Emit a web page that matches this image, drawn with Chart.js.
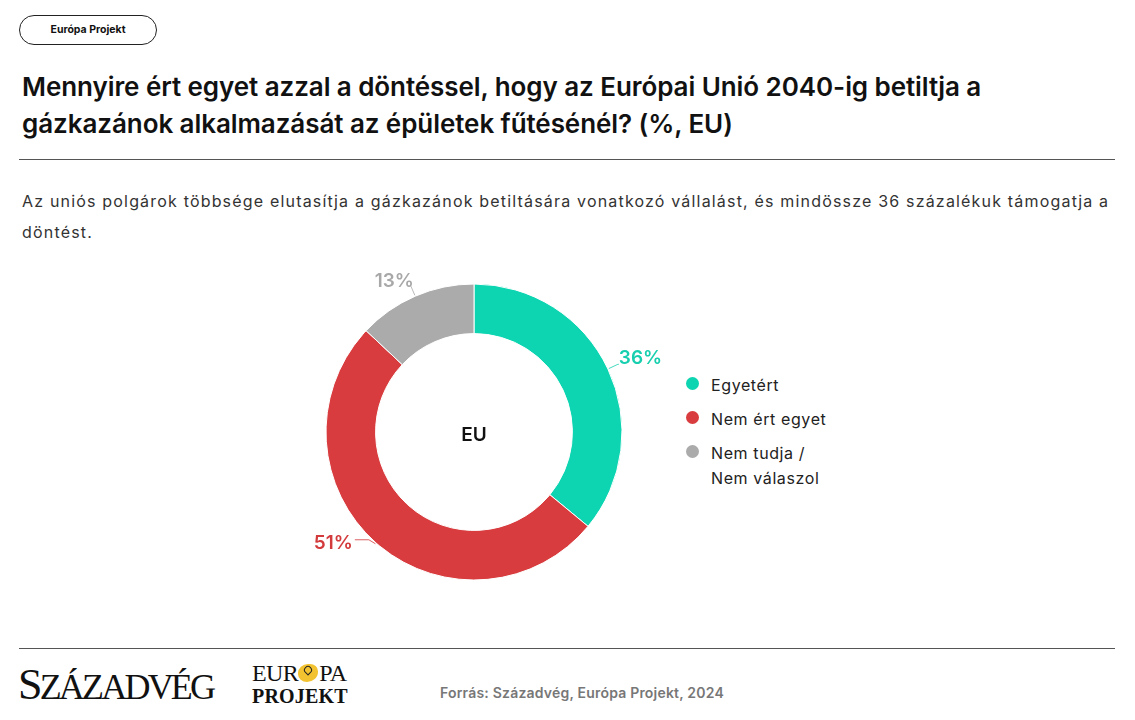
<!DOCTYPE html>
<html>
<head>
<meta charset="utf-8">
<script src="https://cdn.jsdelivr.net/npm/chart.js@4.4.1/dist/chart.umd.min.js"></script>
<style>
  body { margin: 0; width: 1135px; height: 720px; background: #fff; font-family: Inter, "Noto Sans", sans-serif; color: #111; position: relative; overflow: hidden; }
  .badge { position: absolute; left: 19px; top: 15px; width: 136px; height: 28px; border: 1px solid #222; border-radius: 15px; font-size: 10.5px; font-weight: 700; text-align: center; line-height: 28px; }
  .title { position: absolute; left: 22px; top: 68px; font-size: 26px; font-weight: 600; line-height: 37px; letter-spacing: -0.07px; }
  .rule { position: absolute; left: 19px; width: 1096px; height: 1px; background: #555; }
  .sub { position: absolute; left: 22px; top: 186px; font-size: 16px; line-height: 31px; color: #333; letter-spacing: 1.18px; }
  #wrap { position: absolute; left: 274px; top: 257px; width: 400px; height: 350px; }
  .legend { position: absolute; left: 686px; top: 373px; font-size: 16px; color: #222; letter-spacing: 0.6px; }
  .legend .item { position: relative; padding-left: 25px; line-height: 25px; margin-bottom: 9px; }
  .legend .dot { position: absolute; left: 0; top: 4px; width: 13px; height: 13px; border-radius: 50%; }
  .logo1 { position: absolute; left: 18px; top: 660px; font-family: "Liberation Serif", serif; font-size: 44px; line-height: 50px; letter-spacing: -2.8px; white-space: nowrap; }
  .logo1 span { font-size: 36px; }
  .logo2 { position: absolute; left: 252px; top: 660px; font-family: "Liberation Serif", serif; white-space: nowrap; }
  .logo2 .top { font-size: 24px; line-height: 26px; letter-spacing: -0.6px; }
  .logo2 .blob { display: inline-block; width: 20px; height: 18px; background: #f2c230; border-radius: 50% 40% 55% 45%; vertical-align: -1px; position: relative; margin-right: 1px; }
  .logo2 .blob:after { content: ""; position: absolute; left: 6px; top: 2px; width: 6px; height: 6px; border: 1.5px solid #222; border-radius: 50% 50% 50% 0; transform: rotate(-45deg); }
  .logo2 .bot { font-size: 20px; font-weight: 700; letter-spacing: 0.2px; line-height: 20px; }
  .source { position: absolute; left: 440px; top: 684px; font-size: 14px; font-weight: 600; color: #777; letter-spacing: 0.2px; }
</style>
</head>
<body>
<div class="badge">Európa Projekt</div>
<div class="title">Mennyire ért egyet azzal a döntéssel, hogy az Európai Unió 2040-ig betiltja a<br>gázkazánok alkalmazását az épületek fűtésénél? (%, EU)</div>
<div class="rule" style="top:159px"></div>
<div class="sub">Az uniós polgárok többsége elutasítja a gázkazánok betiltására vonatkozó vállalást, és mindössze 36 százalékuk támogatja a<br>döntést.</div>
<div id="wrap"><canvas id="chart"></canvas></div>
<div class="legend" id="legend"></div>
<div class="rule" style="top:648px"></div>
<div class="logo1">S<span>ZÁZADVÉG</span></div>
<div class="logo2"><div class="top">EUR<span class="blob"></span>PA</div><div class="bot">PROJEKT</div></div>
<div class="source">Forrás: Századvég, Európa Projekt, 2024</div>
<script>
var categories = ["Egyetért", "Nem ért egyet", "Nem tudja /\nNem válaszol"];
var values = [36, 51, 13];
var colors = ["#0dd5b1", "#d83c3e", "#ababab"];
var labelColors = ["#17cfae", "#d33a3c", "#a8a8a8"];
var centerText = "EU";

// html legend
var legend = document.getElementById("legend");
for (var i = 0; i < categories.length; i++) {
    var item = document.createElement("DIV");
    item.className = "item";
    item.innerHTML = '<span class="dot" style="background:' + colors[i] + '"></span>' + categories[i].replace("\n", "<br>");
    legend.appendChild(item);
}

var labelPlugin = {
    id: "labels",
    afterDatasetsDraw: function (chart) {
        var ctx = chart.ctx;
        var meta = chart.getDatasetMeta(0);
        ctx.save();
        meta.data.forEach(function (arc, i) {
            var mid = (arc.startAngle + arc.endAngle) / 2;
            var r = arc.outerRadius;
            var c = Math.cos(mid), s = Math.sin(mid);
            var x0 = arc.x + c * (r + 1);
            var y0 = arc.y + s * (r + 1);
            var x1 = x0 + c * 10;
            var y1 = y0 + Math.min(s * 10, -4);
            var right = c >= 0;
            var top = Math.abs(s) > 0.8;
            ctx.strokeStyle = labelColors[i];
            ctx.lineWidth = 0.8;
            ctx.beginPath();
            ctx.moveTo(x0, y0);
            ctx.lineTo(x1, y1);
            var tx, ty;
            if (top) {
                tx = x1 + 3; ty = y1 - 5;
            } else if (right) {
                ctx.lineTo(x1 + 1, y1);
                tx = x1 + 1; ty = y1 - 6;
            } else {
                ctx.lineTo(x1 - 14, y1);
                tx = x1 - 16; ty = y1 + 4;
            }
            ctx.stroke();
            ctx.fillStyle = labelColors[i];
            ctx.font = "600 19px Inter";
            ctx.textBaseline = "middle";
            ctx.textAlign = right ? "left" : "right";
            ctx.fillText(values[i] + "%", tx, ty);
        });
        ctx.fillStyle = "#111";
        ctx.font = "600 19px Inter";
        ctx.textAlign = "center";
        ctx.textBaseline = "middle";
        ctx.fillText(centerText, meta.data[0].x, meta.data[0].y + 3);
        ctx.restore();
    }
};

new Chart(document.getElementById("chart"), {
    type: "doughnut",
    data: {
        labels: categories,
        datasets: [{
            data: values,
            backgroundColor: colors,
            borderColor: "#fff",
            borderWidth: 1
        }]
    },
    options: {
        responsive: true,
        maintainAspectRatio: false,
        animation: false,
        radius: 148,
        cutout: "66.5%",
        plugins: { legend: { display: false }, tooltip: { enabled: false } }
    },
    plugins: [labelPlugin]
});
</script>
</body>
</html>
